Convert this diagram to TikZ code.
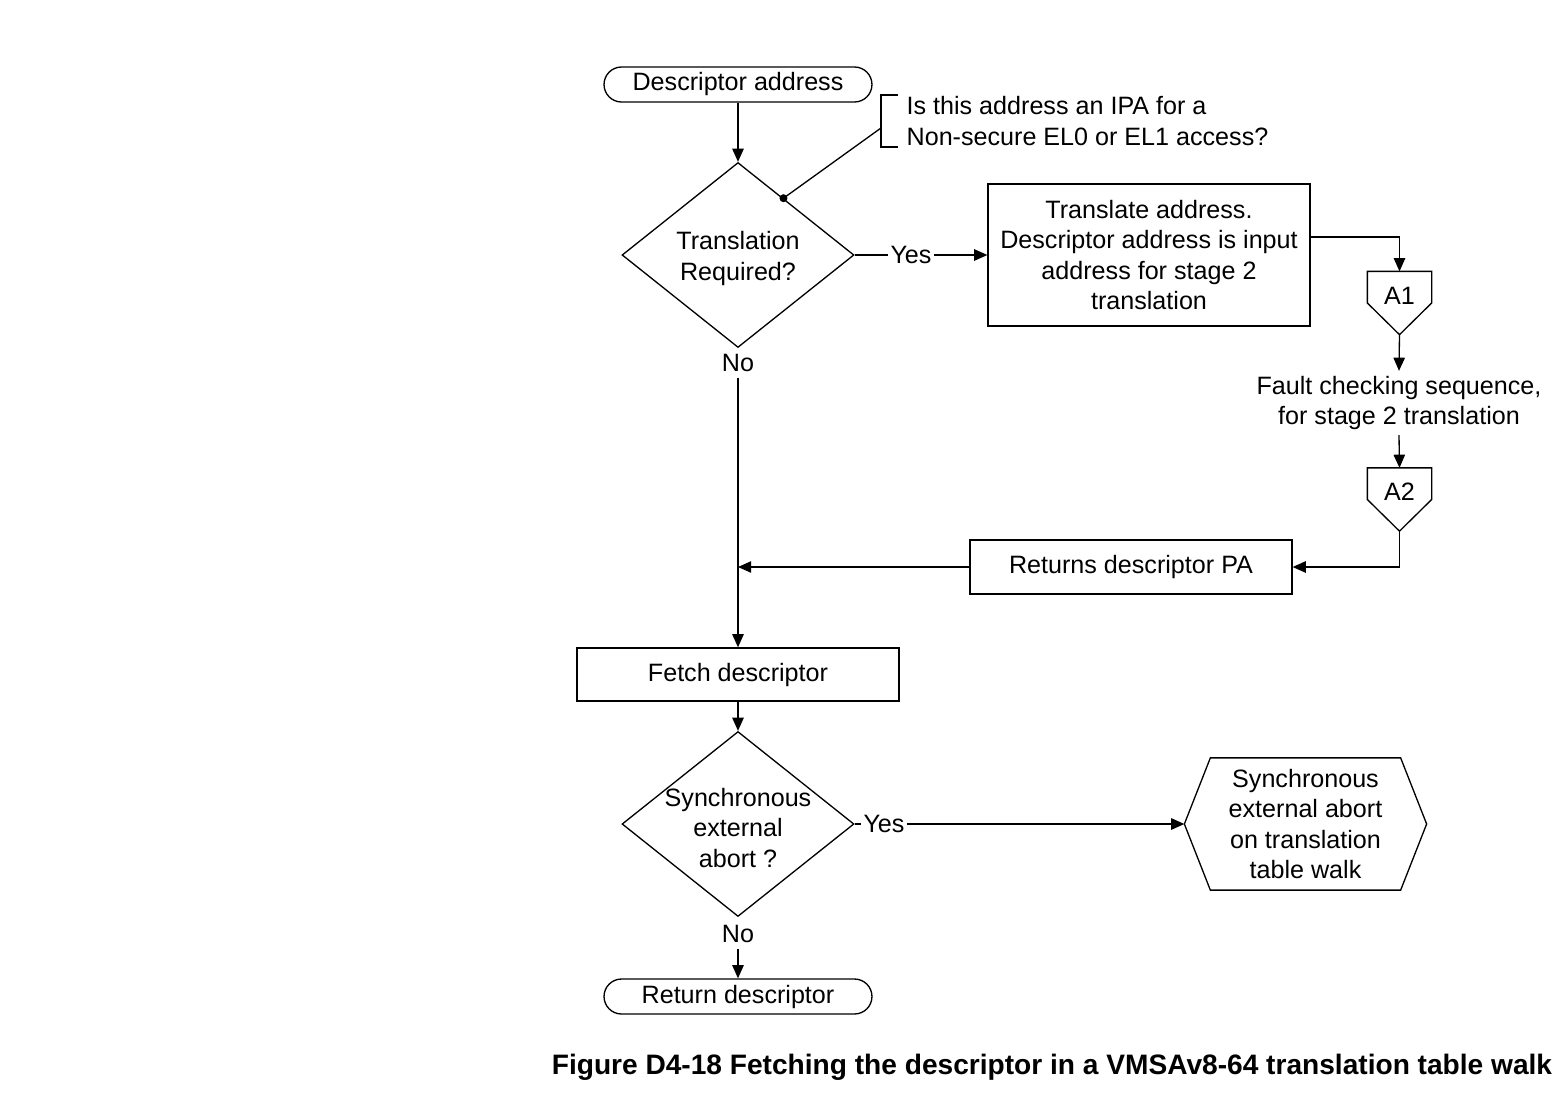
\documentclass[tikz,border=0pt]{standalone}
\usepackage{fontspec}
\setmainfont{Liberation Sans}
\usetikzlibrary{arrows.meta,calc,shapes.geometric}
\begin{document}
\begin{tikzpicture}[x=0.02cm,y=-0.02cm,
  line width=0.75pt,
  every node/.style={font=\fontsize{14.3pt}{17.1pt}\selectfont, inner sep=0pt},
  arr/.style={-{Triangle[length=7.5pt,width=6.5pt]}},
  term/.style={draw, rectangle, rounded corners=0.35cm, minimum width=5.36cm, minimum height=0.7cm},
  proc/.style={draw, rectangle, minimum width=6.44cm, align=center},
  dia/.style={draw, diamond, minimum width=4.64cm, minimum height=3.7cm},
  conn/.style={minimum width=1.26cm, minimum height=1.24cm},
  lbl/.style={inner xsep=1pt, inner ysep=3pt},
  ]
\useasboundingbox (0,0) rectangle (1560,1106);

% nodes
\node[term] (start) at (738,84.5) {Descriptor address};
\node[dia, label={[align=center,yshift=-0.07cm]center:Translation\\Required?}] (d1) at (738,255) {};
\node[align=left, anchor=west] (note) at (906,121) {Is this address an IPA for a\\Non-secure EL0 or EL1 access?};
\node[lbl] (yes1) at (911,255) {Yes};
\node[proc, minimum height=2.84cm] (tr) at (1149,255) {Translate address.\\Descriptor address is input\\address for stage 2\\translation};
\node[conn, label={[yshift=0.15cm]center:A1}] (a1) at (1399.5,303) {};
\node[align=center, minimum height=1.26cm] (fault) at (1399,403) {Fault checking sequence,\\for stage 2 translation};
\node[conn, label={[yshift=0.15cm]center:A2}] (a2) at (1399.5,499.5) {};
\node[proc, minimum height=1.08cm] (ret) at (1131,567) {Returns descriptor PA};
\coordinate (j) at (738,567);
\node[lbl] (no1) at (738,363) {No};
\node[proc, minimum height=1.06cm] (fetch) at (738,674.5) {Fetch descriptor};
\node[dia, label={[align=center,yshift=-0.08cm]center:Synchronous\\external\\abort ?}] (d2) at (738,824) {};
\node[lbl] (yes2) at (884,824) {Yes};
\node[minimum width=4.82cm, minimum height=2.62cm, align=center] (hex) at (1305.5,824) {Synchronous\\external abort\\on translation\\table walk};
\node[lbl] (no2) at (738,934) {No};
\node[term] (end) at (738,996.5) {Return descriptor};
\node[font=\bfseries\fontsize{16pt}{19pt}\selectfont] (cap) at (1052,1067) {Figure D4-18 Fetching the descriptor in a VMSAv8-64 translation table walk};

% shapes drawn from anchors
\draw (a1.north west) -- (a1.north east) -- (a1.east) -- (a1.south) -- (a1.west) -- cycle;
\draw (a2.north west) -- (a2.north east) -- (a2.east) -- (a2.south) -- (a2.west) -- cycle;
\draw (hex.west) -- ([xshift=0.52cm]hex.north west) -- ([xshift=-0.52cm]hex.north east) -- (hex.east) -- ([xshift=-0.52cm]hex.south east) -- ([xshift=0.52cm]hex.south west) -- cycle;

% bracket annotation
\coordinate (bm) at (881,128);
\draw (898,95) -- (881,95) -- (881,147) -- (898,147);
\coordinate (dot) at ($(d1.north)!0.39!(d1.east)$);
\fill (dot) circle[radius=0.08cm];
\draw (dot) -- (bm);

% connectors
\draw[arr] (start.south) -- (d1.north);
\draw (d1.east) -- (yes1.west);
\draw[arr] (yes1.east) -- (tr.west);
\draw[arr] ([yshift=0.36cm]tr.east) -| (a1.north);
\draw[arr] (a1.south) -- (fault.north);
\draw[arr] (fault.south) -- (a2.north);
\draw[arr] (a2.south) |- (ret.east);
\draw[arr] (ret.west) -- (j);
\draw[arr] (no1.south) -- (fetch.north);
\draw[arr] (fetch.south) -- (d2.north);
\draw (d2.east) -- (yes2.west);
\draw[arr] (yes2.east) -- (hex.west);
\draw[arr] (no2.south) -- (end.north);
\end{tikzpicture}
\end{document}
